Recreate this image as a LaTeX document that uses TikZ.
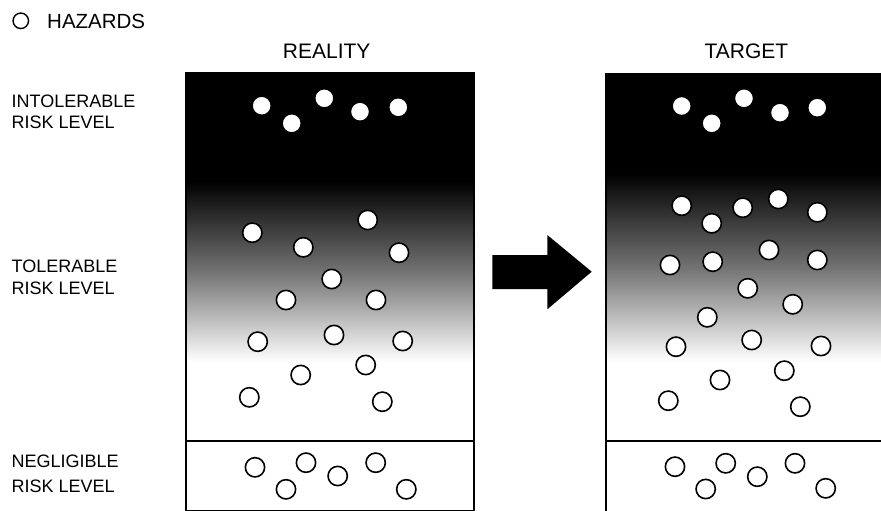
\documentclass[tikz,border=0pt]{standalone}
\usepackage{fontspec}
\setmainfont{Liberation Sans}
\begin{document}
\begin{tikzpicture}[x=1pt,y=-1pt,
  hz/.style={circle,draw=black,fill=white,line width=1.6pt,minimum size=19.3pt,inner sep=0pt},
  lbl/.style={anchor=north west,inner sep=0pt,align=left},
  ttl/.style={anchor=base,inner sep=0pt,font=\fontsize{21}{24}\selectfont},
  boxline/.style={line width=2pt}]
\useasboundingbox (0,0) rectangle (881,511);
% legend
\node[circle,draw=black,line width=1.4pt,minimum size=15.5pt,inner sep=0pt] (leg) at (20.8,20.8) {};
\node[anchor=base west,inner sep=0pt,font=\fontsize{20.5}{24}\selectfont] (legt) at (47,28.3) {HAZARDS};
% titles
\node[ttl] (treal) at (326.7,59) {REALITY};
\node[ttl] (ttarg) at (746.5,59) {TARGET};
% row labels
\node[lbl,font=\fontsize{18}{20.5}\selectfont] (lint) at (11.5,95) {INTOLERABLE\\RISK LEVEL};
\node[lbl,font=\fontsize{18}{21.7}\selectfont] (ltol) at (11.5,260) {TOLERABLE\\RISK LEVEL};
\node[lbl,font=\fontsize{18}{25}\selectfont] (lneg) at (11.5,455) {NEGLIGIBLE\\RISK LEVEL};
% left box
\fill[black] (186,73.3) rectangle (474,182);
\shade[top color=black,bottom color=white,middle color=black!55] (186,181) rectangle (474,362);
\draw[boxline] (186,73.3) rectangle (474,510.5);
\draw[boxline] (186,440.7) -- (474,440.7);
% right box
\fill[black] (606,74) rectangle (884,174);
\shade[top color=black,bottom color=white,middle color=black!55] (606,173) rectangle (884,362);
\draw[boxline] (606,74) rectangle (884,514);
\draw[boxline] (606,440.7) -- (884,440.7);
% arrow
\fill[black] (492.3,255) -- (547.3,255) -- (547.3,235) -- (591.7,271.7) -- (547.3,309.3) -- (547.3,289) -- (492.3,289) -- cycle;
% left hazards
\foreach \x/\y [count=\i] in {261.7/105.7, 324.3/98.3, 291.7/123.3, 360/111.7, 398.3/107.3,
  252.3/232.7, 367.7/220, 303.3/247.3, 399/252.7, 331.7/279, 286/300, 376/300,
  257.7/341.7, 334/335, 402.7/341, 365.7/365, 300.7/375, 249.3/397.3, 382.3/401.7,
  255/467.3, 306/462.7, 337.7/476, 375.7/462.7, 286/489.3, 406.3/489.3}
  \node[hz] (L\i) at (\x,\y) {};
% right hazards
\foreach \x/\y [count=\i] in {681.7/106, 744/98.3, 711.7/123.3, 780/112.7, 817.3/107.7,
  681.7/205.7, 742.7/207.7, 778.3/199, 817.3/212.3, 711.7/223.3,
  670/265, 712.7/261.7, 769/250, 817.3/260, 747.7/288.3, 792.7/304.3, 707.3/317.3,
  676/346.7, 751.7/340, 821/346, 784.3/370.7, 720/380, 668.3/400.7, 800.3/406.7,
  675/466.7, 725.7/463.3, 757.3/476.7, 795/463.3, 705.7/489, 825.7/488.3}
  \node[hz] (R\i) at (\x,\y) {};
\end{tikzpicture}
\end{document}
